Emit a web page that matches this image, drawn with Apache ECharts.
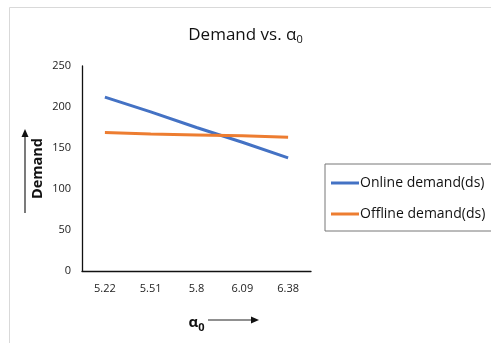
<!DOCTYPE html>
<html>
<head>
<meta charset="utf-8">
<script src="https://cdn.jsdelivr.net/npm/echarts@6/dist/echarts.min.js"></script>
<style>
  html, body { margin: 0; padding: 0; background: #fff; }
  #chart { width: 491px; height: 343px; }
</style>
</head>
<body>
<div id="chart"></div>
<script>
// α0 values along the horizontal axis
const alphaValues = ['5.22', '5.51', '5.8', '6.09', '6.38'];
// demand series
const onlineDemand = [212, 194, 175, 157, 138];
const offlineDemand = [169, 167, 166, 165, 163];
// vertical axis ticks
const demandTicks = [0, 50, 100, 150, 200, 250];

const FONT = '"Open Sans", "Noto Sans", sans-serif';
const chart = echarts.init(document.getElementById('chart'));

chart.setOption({
  backgroundColor: '#fff',
  animation: false,
  title: {
    text: 'Demand vs. α{sub|0}',
    left: 'center',
    top: 20,
    textStyle: {
      fontFamily: FONT,
      fontSize: 17,
      fontWeight: 'normal',
      color: '#111',
      rich: {
        sub: { fontFamily: FONT, fontSize: 11, color: '#111', verticalAlign: 'bottom', padding: [9, 0, 0, 0] }
      }
    }
  },
  legend: {
    orient: 'vertical',
    left: 325,
    top: 164,
    padding: [12, 40, 10, 6],
    itemGap: 17,
    itemWidth: 28,
    itemHeight: 3,
    icon: 'rect',
    borderColor: '#777',
    borderWidth: 1,
    textStyle: { fontFamily: FONT, fontSize: 14, color: '#111', padding: [0, 0, 0, -4] },
    data: ['Online demand(ds)', 'Offline demand(ds)']
  },
  grid: { left: 82, right: 180, top: 66, bottom: 72, containLabel: false },
  xAxis: {
    type: 'category',
    data: alphaValues,
    boundaryGap: true,
    axisLine: { lineStyle: { color: '#111', width: 1.3 } },
    axisTick: { show: false },
    axisLabel: { fontFamily: FONT, fontSize: 11, color: '#222', margin: 12 },
    name: 'α{sub|0}',
    nameLocation: 'middle',
    nameGap: 42,
    nameTextStyle: {
      fontFamily: FONT, fontSize: 15, fontWeight: 'bold', color: '#111',
      rich: {
        sub: { fontFamily: FONT, fontSize: 11, fontWeight: 'bold', color: '#111', verticalAlign: 'bottom', padding: [9, 0, 0, 0] }
      }
    }
  },
  yAxis: {
    type: 'value',
    min: demandTicks[0],
    max: demandTicks[demandTicks.length - 1],
    interval: demandTicks[1] - demandTicks[0],
    axisLine: { show: true, lineStyle: { color: '#111', width: 1.3 } },
    axisTick: { show: false },
    splitLine: { show: false },
    axisLabel: { fontFamily: FONT, fontSize: 11, color: '#222', margin: 11 },
    name: 'Demand',
    nameLocation: 'middle',
    nameRotate: 90,
    nameGap: 37,
    nameTextStyle: { fontFamily: FONT, fontSize: 14.5, fontWeight: 'bold', color: '#111' }
  },
  series: [
    {
      name: 'Online demand(ds)',
      type: 'line',
      data: onlineDemand,
      symbol: 'none',
      lineStyle: { color: '#4472C4', width: 3 },
      itemStyle: { color: '#4472C4' }
    },
    {
      name: 'Offline demand(ds)',
      type: 'line',
      data: offlineDemand,
      symbol: 'none',
      lineStyle: { color: '#ED7D31', width: 3 },
      itemStyle: { color: '#ED7D31' }
    }
  ],
  graphic: [
    // chart area frame
    { type: 'rect', shape: { x: 9.5, y: 7.5, width: 600, height: 400 }, style: { fill: 'none', stroke: '#d9d9d9', lineWidth: 1 }, z: -1 },
    // arrow beside the vertical axis title
    { type: 'line', shape: { x1: 25, y1: 213, x2: 25, y2: 136 }, style: { stroke: '#222', lineWidth: 1.2 } },
    { type: 'polygon', shape: { points: [[25, 129], [21.5, 137], [28.5, 137]] }, style: { fill: '#111' } },
    // arrow beside the horizontal axis title
    { type: 'line', shape: { x1: 208, y1: 320, x2: 252, y2: 320 }, style: { stroke: '#222', lineWidth: 1.2 } },
    { type: 'polygon', shape: { points: [[259, 320], [251, 316.5], [251, 323.5]] }, style: { fill: '#111' } }
  ]
});
</script>
</body>
</html>
